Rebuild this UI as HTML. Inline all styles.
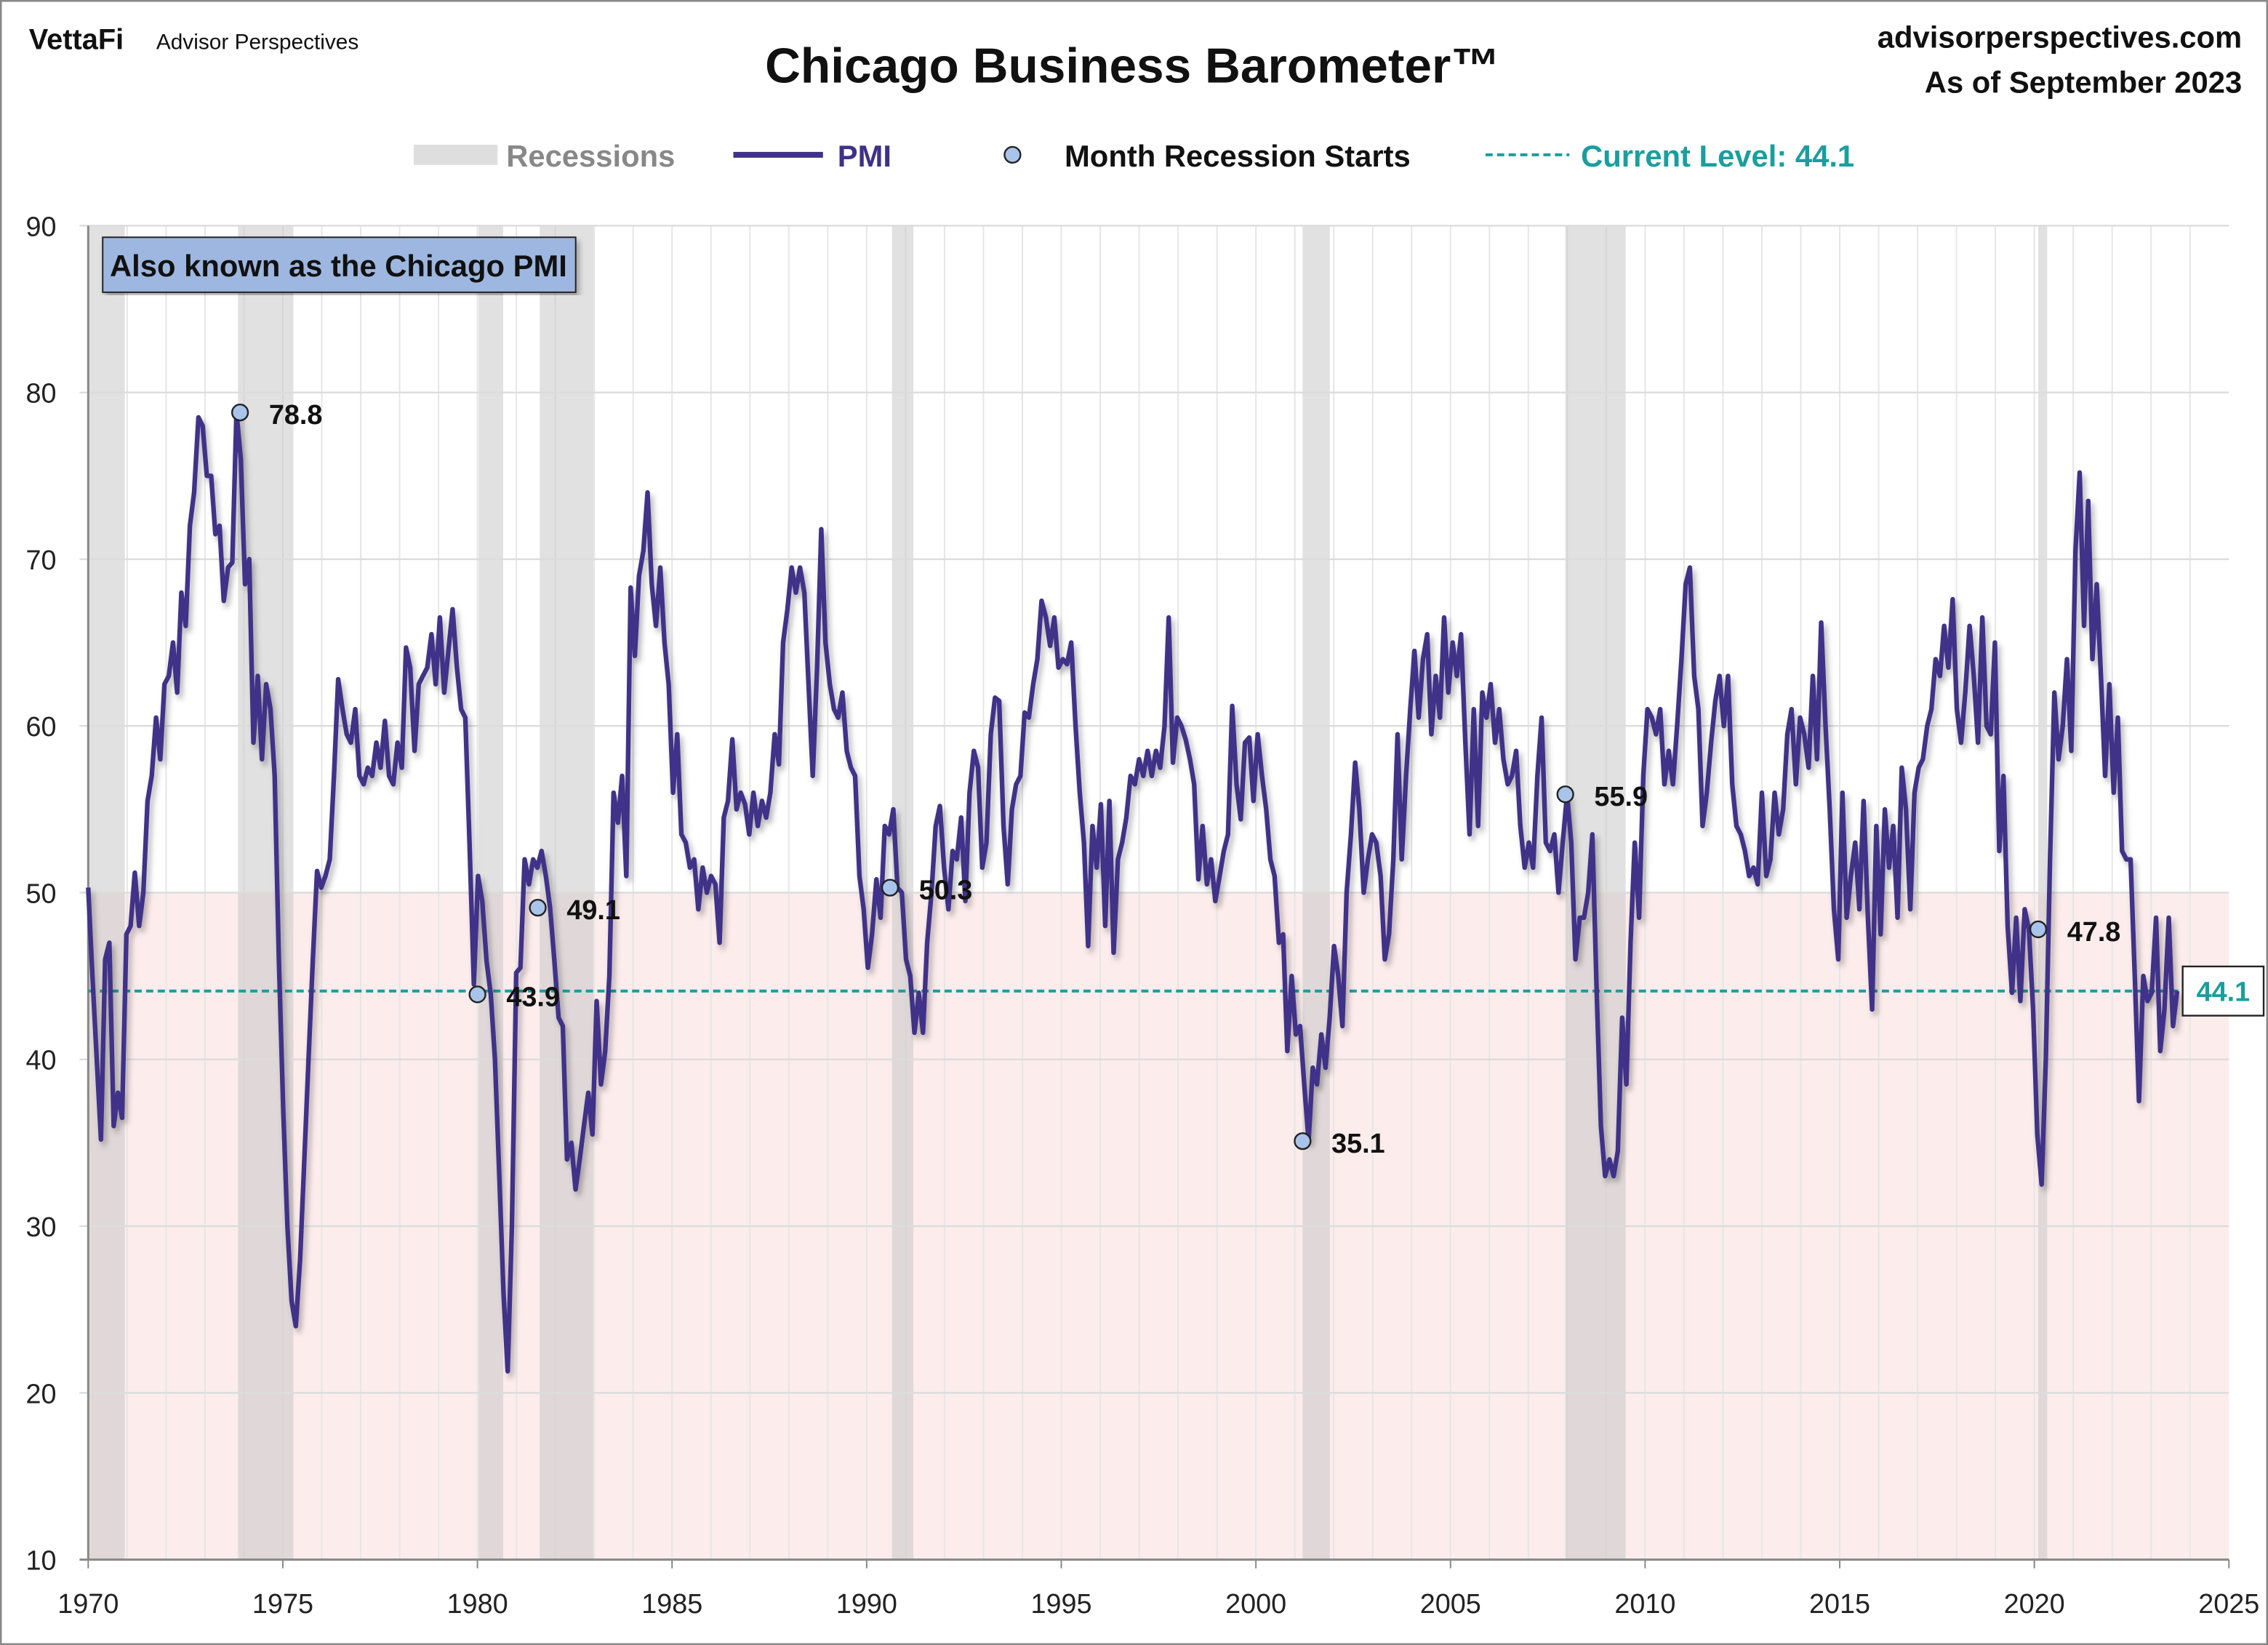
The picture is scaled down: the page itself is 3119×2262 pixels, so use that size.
<!DOCTYPE html>
<html><head><meta charset="utf-8"><style>
html,body{margin:0;padding:0;background:#fff}
svg{display:block;font-family:"Liberation Sans",sans-serif}
</style></head><body>
<svg id="chart" width="3119" height="2262" viewBox="0 0 1568 1137" preserveAspectRatio="none" xmlns="http://www.w3.org/2000/svg">
<rect x="0.5" y="0.5" width="1567" height="1136" fill="#fff" stroke="#888" stroke-width="1.5"/>
<text x="20" y="34" font-size="20" font-weight="bold" fill="#111">VettaFi</text>
<text x="108" y="34" font-size="15" fill="#111">Advisor Perspectives</text>
<text x="783" y="57" font-size="34" font-weight="bold" text-anchor="middle" fill="#111">Chicago Business Barometer™</text>
<text x="1550" y="33" font-size="21" font-weight="bold" text-anchor="end" fill="#111">advisorperspectives.com</text>
<text x="1550" y="64" font-size="21" font-weight="bold" text-anchor="end" fill="#111">As of September 2023</text>
<g>
<rect x="286" y="100" width="58" height="14" fill="#dedede"/>
<text x="350" y="115" font-size="21" font-weight="bold" fill="#888">Recessions</text>
<line x1="507" y1="107" x2="569" y2="107" stroke="#3f3088" stroke-width="4"/>
<text x="579" y="115" font-size="21" font-weight="bold" fill="#3f3088">PMI</text>
<circle cx="700" cy="107" r="5.5" fill="#a9c4ea" stroke="#222" stroke-width="1.2"/>
<text x="736" y="115" font-size="21" font-weight="bold" fill="#111">Month Recession Starts</text>
<line x1="1027" y1="107" x2="1085" y2="107" stroke="#1a9e9e" stroke-width="2" stroke-dasharray="5,3"/>
<text x="1093" y="115" font-size="21" font-weight="bold" fill="#1a9e9e">Current Level: 44.1</text>
</g>
<g id="plot"></g>
</svg>
<script>
const pmiValues=[50.3,45,40,35.2,46,47,36,38,36.5,47.5,48,51.2,48,50,55.5,57,60.5,58,62.5,63,65,62,68,66,72,74,78.5,78,75,75,71.5,72,67.5,69.5,69.8,78.8,76,68.5,70,59,63,58,62.5,61,57,46,37,30,25.5,24,28,34,40,46,51.3,50.3,51,52,57,62.8,61,59.5,59,61,57,56.5,57.5,57,59,57.5,60.3,57,56.5,59,57.5,64.7,63.5,58.5,62.5,63,63.5,65.5,62.5,66.5,62,64.5,67,63.5,61,60.5,53,44.5,51,49.5,45.9,43.9,40,33,26,21.3,30,45.2,45.5,52,50.5,52,51.5,52.5,51,49.1,46,42.5,42,34,35,32.2,34,36,38,35.5,43.5,38.5,40.5,45,56,54.2,57,51,68.3,64.2,69,70.5,74,68.5,66,69.5,65,62.5,56,59.5,53.5,53,51.5,52,49,51.5,50,51,50.5,47,54.5,55.5,59.2,55,56,55.3,53.5,56,54,55.5,54.5,56,59.5,57.7,65,67,69.5,68,69.5,68,62.5,57,63.5,71.8,65,62.5,61,60.5,62,58.5,57.5,57,51,49,45.5,47.5,50.8,48.5,54,53.5,55,50.3,50,46,45,41.6,44,41.6,47,50,54,55.2,51.5,49,52.5,52,54.5,49.5,56,58.5,57.5,51.5,53,59.5,61.7,61.5,54,50.5,55,56.5,57,60.8,60.5,62.5,64,67.5,66.5,64.8,66.5,63.5,64,63.7,65,60,56,53,46.8,54,51.5,55.3,48,55.5,46.4,52,53,54.5,57,56.5,58,57,58.5,57,58.5,57.5,60,66.5,57.8,60.5,60,59.2,58,56.5,50.8,54,50.5,52,49.5,51,52.5,53.5,61.2,56.5,54.4,59,59.3,55.5,59.5,57,55,52,51,47,47.5,40.5,45,41.5,42,38.5,35.1,39.5,38.5,41.5,39.5,42.5,46.8,45,42,50,53.5,57.8,55,50,52,53.5,53,51,46,47.5,52,59.5,52,57,61,64.5,60.5,64,65.5,59.5,63,60.5,66.5,62,65,63,65.5,59,53.5,61,54,62,60.5,62.5,59,61,58,56.5,57,58.5,54,51.5,53,51.5,57,60.5,53,52.5,53.5,50,53,55.9,53,46,48.5,48.5,50,53.5,44,36,33,34,33,34.5,42.5,38.5,47,53,48.5,57,61,60.5,59.5,61,56.5,58.5,56.5,60,64,68.5,69.5,63,61,54,56,59,61.5,63,60,63,56.5,54,53.5,52.5,51,51.5,50.5,56,51,52,56,53.5,55,59.5,61,56.5,60.5,59.5,57.5,63,58,66.2,60,55,49,46,56,48.5,51,53,49,55.5,48.5,43,54,47.5,55,51.5,54,48.5,57.5,55,49,56,57.5,58,60,61,64,63,66,63.5,67.6,61,59,62,66,63,59,66.5,60,59.5,65,52.5,57,48,44,48.5,43.5,49,47.8,43,35.5,32.5,40,52,62,58,60,64,58.5,70.5,75.2,66,73.5,64,68.5,63,57,62.5,56,60.5,52.5,52,52,45,37.5,45,43.5,44,48.5,40.5,43,48.5,42,44.1];
const seriesStart=1970.0, seriesEnd=2023.67;
const recessionStarts=[1969.95,1973.85,1980.03,1981.6,1990.65,2001.2,2007.95,2020.1];
const recessionEnds=[1970.94,1975.27,1980.66,1982.98,1991.2,2001.9,2009.5,2020.33];
const markerDates=[1973.9,1980.0,1981.55,1990.6,2001.2,2007.95,2020.1];
const markerValues=[78.8,43.9,49.1,50.3,35.1,55.9,47.8];
const yTicks=[10,20,30,40,50,60,70,80,90];
const xTicks=[1970,1975,1980,1985,1990,1995,2000,2005,2010,2015,2020,2025];
const currentLevel=44.1;

const NS="http://www.w3.org/2000/svg";
const X0=61,X1=1541,Y0=1078,Y1=156;
const xs=t=>X0+(t-1970)/(2025-1970)*(X1-X0);
const ys=v=>Y0-(v-10)/(90-10)*(Y0-Y1);
const plot=document.getElementById('plot');
function mk(tag,attrs,parent){const e=document.createElementNS(NS,tag);for(const k in attrs)e.setAttribute(k,attrs[k]);(parent||plot).appendChild(e);return e;}

const band=mk('rect',{x:X0,y:ys(50),width:X1-X0,height:ys(10)-ys(50),fill:'#fcecec'});


for(let yr=1971;yr<=2024;yr++){const l=mk('line',{x1:xs(yr),x2:xs(yr),y1:Y1,y2:Y0,stroke:'#e6e6e6','stroke-width':1});

}
recessionStarts.forEach((s,i)=>{const r=mk('rect',{x:xs(Math.max(s,1970)),y:Y1,width:xs(recessionEnds[i])-xs(Math.max(s,1970)),height:Y0-Y1,fill:'#c8c8c8','fill-opacity':0.55});

});
yTicks.forEach(v=>{const l=mk('line',{x1:X0-6,x2:X1,y1:ys(v),y2:ys(v),stroke:v==10?'#888':'#dcdcdc','stroke-width':v==10?1.5:1.2});


const t=mk('text',{x:X0-22,y:ys(v)+7,'font-size':19,'text-anchor':'end',fill:'#222'});t.textContent=v;

});
const ax=mk('line',{x1:X0,x2:X0,y1:Y1,y2:Y0,stroke:'#888','stroke-width':1.5});


xTicks.forEach(yr=>{const l=mk('line',{x1:xs(yr),x2:xs(yr),y1:Y0,y2:Y0+6,stroke:'#888'});


const t=mk('text',{x:xs(yr),y:Y0+37,'font-size':19,'text-anchor':'middle',fill:'#222'});t.textContent=yr;

});

const cl=mk('line',{x1:X0,x2:X1-30,y1:ys(currentLevel),y2:ys(currentLevel),stroke:'#1a9e9e','stroke-width':2,'stroke-dasharray':'5,3'});



const n=pmiValues.length;
const pts=pmiValues.map((v,i)=>xs(seriesStart+i*(seriesEnd-seriesStart)/(n-1)).toFixed(1)+','+ys(v).toFixed(1));
const line=mk('polyline',{points:pts.join(' '),fill:'none',stroke:'#3f3088','stroke-width':3.2,'stroke-linejoin':'round',filter:'url(#sh)'});



markerDates.forEach((d,i)=>{const c=mk('circle',{cx:xs(d),cy:ys(markerValues[i]),r:5.5,fill:'#a9c4ea',stroke:'#222','stroke-width':1.2});


const t=mk('text',{x:xs(d)+20,y:ys(markerValues[i])+8,'font-size':19,'font-weight':'bold',fill:'#111'});t.textContent=markerValues[i].toFixed(1);

});

const defs=mk('defs',{},document.getElementById('chart'));
const f=mk('filter',{id:'sh',x:'-5%',y:'-5%',width:'110%',height:'110%'},defs);
mk('feDropShadow',{dx:2,dy:3,stdDeviation:2,'flood-color':'#000','flood-opacity':0.3},f);

const box=mk('rect',{x:X1-32,y:ys(currentLevel)-17,width:56,height:34,fill:'#fff',stroke:'#222','stroke-width':1.2});


const bt=mk('text',{x:X1-4,y:ys(currentLevel)+7,'font-size':19,'font-weight':'bold','text-anchor':'middle',fill:'#1a9e9e'});bt.textContent='44.1';



const nb=mk('rect',{x:71,y:164,width:327,height:38,fill:'#9db7e0',stroke:'#222','stroke-width':1,filter:'url(#sh)'});


const nt=mk('text',{x:234,y:191,'font-size':21,'font-weight':'bold','text-anchor':'middle',fill:'#111'});nt.textContent='Also known as the Chicago PMI';


</script>
</body></html>
